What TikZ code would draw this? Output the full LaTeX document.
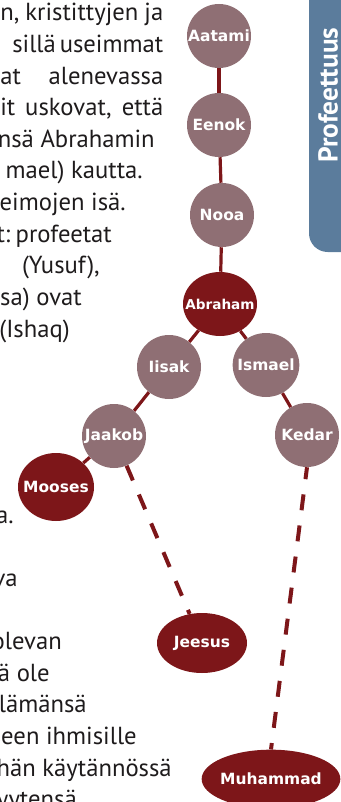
\documentclass[tikz,border=0pt]{standalone}
\usepackage{fontspec}
\setmainfont{PT Sans}
\newfontfamily\namefont{DejaVu Sans}
\usepackage{tikz}
\usetikzlibrary{shapes.geometric}
\definecolor{mauve}{HTML}{8F6F74}
\definecolor{wine}{HTML}{7D1619}
\definecolor{tabblue}{HTML}{5B7C9C}
\definecolor{ink}{HTML}{1E1B1C}

\begin{document}
\begin{tikzpicture}[x=0.75pt,y=-0.75pt
  ,link/.style={draw=wine,line width=2.4pt}
  ,future/.style={draw=wine,line width=3pt,dash pattern=on 12pt off 11.5pt}]
  \tikzstyle{person}=[circle,fill=mauve,inner sep=0pt,minimum size=48pt]
  \tikzstyle{prophet}=[ellipse,fill=wine,inner sep=0pt]
  \tikzstyle{every label}=[text=white,inner sep=0pt
  ,font=\namefont\bfseries\fontsize{11.6}{12}\selectfont]
  \tikzstyle{body}=[text=ink,anchor=base east,inner sep=0pt
  ,font=\fontsize{18.5}{22}\selectfont]
  \tikzstyle{fullline}=[body,anchor=base west]

  \useasboundingbox (0,0) rectangle (340,802);

  % side tab
  \fill[tabblue,rounded corners=14pt] (309,-30) rectangle (380,252);
  \node[rotate=90,text=white,inner sep=0pt
  ,font=\bfseries\fontsize{20.5}{21}\selectfont]
  (tab) at (328,95) {Profeettuus};

  % text beside the tree
  \node[fullline] (l1) at (0,21) {\makebox[122.25pt]{n,\hfill kristittyjen\hfill ja}};
  \node[fullline] (l2) at (12,52.6) {\makebox[113.25pt]{sillä\hfill useimmat}};
  \node[fullline] (l3) at (0,84.2) {\makebox[122.25pt]{at\hfill alenevassa}};
  \node[fullline] (l4) at (0,115.8) {\makebox[122.25pt]{it\hfill uskovat,\hfill että}};
  \node[body] (l5) at (155,147.4) {nsä Abrahamin};
  \node[body] (l6) at (143,179) {mael) kautta.};
  \node[body] (l7) at (126,210.6) {eimojen isä.};
  \node[body] (l8) at (112,242.2) {t:\hspace{4pt}profeetat};
  \node[body] (l9) at (100,273.8) {(Yusuf),};
  \node[body] (l10) at (82,305.4) {sa) ovat};
  \node[body] (l11) at (70,337) {(Ishaq)};
  \node[body] (l12) at (14,523) {a.};
  \node[body] (l13) at (18,586) {va};
  \node[body] (l14) at (62,649) {olevan};
  \node[body] (l15) at (50,681) {ä ole};
  \node[body] (l16) at (87,712) {lämänsä};
  \node[body] (l17) at (137,744) {seen ihmisille};
  \node[body] (l18) at (172,776) {hän käytännössä};
  \node[body] (l19) at (77,807) {yytensä};

  % the line of prophets
  \node[person,label={center:Aatami}] (aatami) at (219,36) {};
  \node[person,label={center:Eenok}] (eenok) at (219,125) {};
  \node[person,label={center:Nooa}] (nooa) at (222,215) {};
  \node[prophet,minimum width=55.5pt,minimum height=48pt
  ,label={[font=\namefont\bfseries\fontsize{10.2}{11}\selectfont]center:Abraham}]
  (abraham) at (220,304) {};
  \node[person,label={center:Iisak}] (iisak) at (169,367) {};
  \node[person,ellipse,minimum width=50pt,minimum height=48pt
  ,label={center:Ismael}] (ismael) at (266,365) {};
  \node[person,label={center:Jaakob}] (jaakob) at (114,436) {};
  \node[person,label={center:Kedar}] (kedar) at (307,435) {};
  \node[prophet,minimum width=57pt,minimum height=51pt
  ,label={center:Mooses}] (mooses) at (56,487) {};
  \node[prophet,minimum width=67.5pt,minimum height=45pt
  ,label={center:Jeesus}] (jeesus) at (202,643) {};
  \node[prophet,minimum width=104pt,minimum height=44pt
  ,label={center:Muhammad}] (muhammad) at (271,779) {};

  \path[link]
  (aatami) edge (eenok)
  (eenok) edge (nooa)
  (nooa) edge (abraham)
  (abraham) edge (iisak)
  (abraham) edge (ismael)
  (iisak) edge (jaakob)
  (jaakob) edge (mooses)
  (ismael) edge (kedar);
  \path[future] (jaakob) edge (jeesus);
  \path[future,dash phase=3pt] (kedar.south) edge (muhammad.north);

\end{tikzpicture}
\end{document}
